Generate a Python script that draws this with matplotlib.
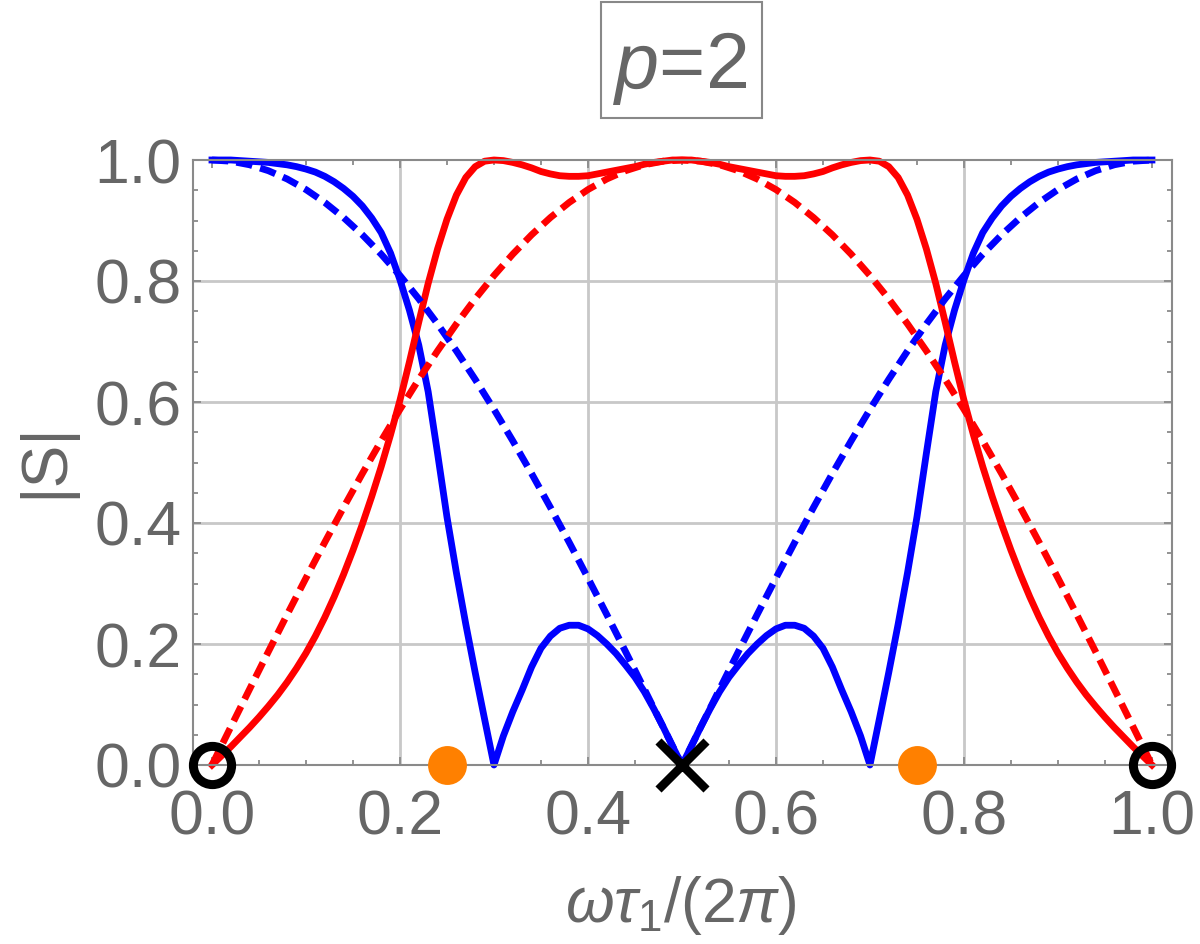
import numpy as np
import matplotlib
matplotlib.use("Agg")
import matplotlib.pyplot as plt
from matplotlib.patches import Rectangle
from matplotlib.ticker import FixedLocator, MultipleLocator, FixedFormatter

plt.rcParams['font.family'] = ['Liberation Sans', 'DejaVu Sans']
plt.rcParams['mathtext.fontset'] = 'custom'
plt.rcParams['mathtext.rm'] = 'Liberation Sans'
plt.rcParams['mathtext.it'] = 'Liberation Sans:italic'

# ---- data ----
x_solid = np.linspace(0.0, 1.0, 101)
blue_solid = [1.000, 1.000, 1.000, 0.999, 0.998, 0.997, 0.996, 0.994, 0.992, 0.989,
              0.985, 0.980, 0.973, 0.964, 0.953, 0.940, 0.924, 0.904, 0.880, 0.846,
              0.802, 0.752, 0.694, 0.617, 0.515, 0.410, 0.318, 0.233, 0.153, 0.076,
              0.000, 0.048, 0.088, 0.124, 0.162, 0.193, 0.213, 0.226, 0.231, 0.231,
              0.225, 0.214, 0.200, 0.184, 0.165, 0.145, 0.121, 0.093, 0.063, 0.031,
              0.000,
              0.031, 0.063, 0.093, 0.121, 0.145, 0.165, 0.184, 0.200, 0.214, 0.225,
              0.231, 0.231, 0.226, 0.213, 0.193, 0.162, 0.124, 0.088, 0.048, 0.000,
              0.076, 0.153, 0.233, 0.318, 0.410, 0.515, 0.617, 0.694, 0.752, 0.802,
              0.846, 0.880, 0.904, 0.924, 0.940, 0.953, 0.964, 0.973, 0.980, 0.985,
              0.989, 0.992, 0.994, 0.996, 0.997, 0.998, 0.999, 1.000, 1.000, 1.000]
red_solid = [0.000, 0.015, 0.030, 0.046, 0.062, 0.079, 0.097, 0.116, 0.137, 0.160,
             0.185, 0.213, 0.244, 0.278, 0.315, 0.355, 0.398, 0.444, 0.493, 0.546,
             0.603, 0.666, 0.732, 0.796, 0.853, 0.902, 0.942, 0.971, 0.989, 0.998,
             1.000, 0.999, 0.996, 0.992, 0.987, 0.981, 0.977, 0.974, 0.973, 0.973,
             0.974, 0.977, 0.980, 0.983, 0.986, 0.989, 0.993, 0.996, 0.998, 1.000,
             1.000,
             1.000, 0.998, 0.996, 0.993, 0.989, 0.986, 0.983, 0.980, 0.977, 0.974,
             0.973, 0.973, 0.974, 0.977, 0.981, 0.987, 0.992, 0.996, 0.999, 1.000,
             0.998, 0.989, 0.971, 0.942, 0.902, 0.853, 0.796, 0.732, 0.666, 0.603,
             0.546, 0.493, 0.444, 0.398, 0.355, 0.315, 0.278, 0.244, 0.213, 0.185,
             0.160, 0.137, 0.116, 0.097, 0.079, 0.062, 0.046, 0.030, 0.015, 0.000]

x_dash = np.linspace(0.0, 1.0, 51)
red_dashed = [0.0000, 0.0628, 0.1253, 0.1874, 0.2487, 0.3090, 0.3681, 0.4258, 0.4818, 0.5358,
              0.5878, 0.6374, 0.6845, 0.7290, 0.7705, 0.8090, 0.8443, 0.8763, 0.9048, 0.9298,
              0.9511, 0.9686, 0.9823, 0.9921, 0.9980, 1.0000, 0.9980, 0.9921, 0.9823, 0.9686,
              0.9511, 0.9298, 0.9048, 0.8763, 0.8443, 0.8090, 0.7705, 0.7290, 0.6845, 0.6374,
              0.5878, 0.5358, 0.4818, 0.4258, 0.3681, 0.3090, 0.2487, 0.1874, 0.1253, 0.0628,
              0.0000]
blue_dashed = [1.0000, 0.9980, 0.9921, 0.9823, 0.9686, 0.9511, 0.9298, 0.9048, 0.8763, 0.8443,
               0.8090, 0.7705, 0.7290, 0.6845, 0.6374, 0.5878, 0.5358, 0.4818, 0.4258, 0.3681,
               0.3090, 0.2487, 0.1874, 0.1253, 0.0628, 0.0000, 0.0628, 0.1253, 0.1874, 0.2487,
               0.3090, 0.3681, 0.4258, 0.4818, 0.5358, 0.5878, 0.6374, 0.6845, 0.7290, 0.7705,
               0.8090, 0.8443, 0.8763, 0.9048, 0.9298, 0.9511, 0.9686, 0.9823, 0.9921, 0.9980,
               1.0000]

circle_x = [0.0, 1.0]
circle_y = [0.0, 0.0]
dot_x = [0.25, 0.75]
dot_y = [0.0, 0.0]
cross_x = [0.5]
cross_y = [0.0]

tick_vals = [0.0, 0.2, 0.4, 0.6, 0.8, 1.0]
tick_labels = ['0.0', '0.2', '0.4', '0.6', '0.8', '1.0']
grid_vals = [0.2, 0.4, 0.6, 0.8]

# ---- figure ----
W, H = 1200, 944
fig = plt.figure(figsize=(W / 100, H / 100), dpi=100)
left_px, right_px, top_px, bot_px = 192.7, 1171.7, 160.0, 765.0
ax = fig.add_axes([left_px / W, 1 - bot_px / H, (right_px - left_px) / W, (bot_px - top_px) / H])
ax.set_xlim(-0.0205, 1.0210)
ax.set_ylim(0.0, 1.0)

TXT = '#666666'
FRAME = '#8a8a8a'
GRID = '#c8c8c8'

for g in grid_vals:
    ax.axvline(g, color=GRID, lw=2.0, zorder=0.5)
    ax.axhline(g, color=GRID, lw=2.0, zorder=0.5)

lw = 4.9
ax.plot(x_solid, blue_solid, color='#0000ff', lw=lw, solid_joinstyle='round', clip_on=False, zorder=2)
ax.plot(x_solid, red_solid, color='#ff0000', lw=lw, solid_joinstyle='round', clip_on=False, zorder=2.1)
ax.plot(x_dash, blue_dashed, color='#0000ff', lw=lw, dashes=(2.4, 1.2), clip_on=False, zorder=2.2)
ax.plot(x_dash, red_dashed, color='#ff0000', lw=lw, dashes=(2.4, 1.2), clip_on=False, zorder=2.3)

ax.plot(circle_x, circle_y, linestyle='none', marker='o', ms=27.5, mfc='none', mec='black', mew=6.5,
        clip_on=False, zorder=5)
ax.plot(dot_x, dot_y, linestyle='none', marker='o', ms=28, mfc='#ff8000', mec='none',
        clip_on=False, zorder=5)
ax.plot(cross_x, cross_y, linestyle='none', marker='x', ms=35, mec='black', mew=6.2,
        clip_on=False, zorder=5)

for s in ax.spines.values():
    s.set_color(FRAME)
    s.set_linewidth(1.5)

ax.xaxis.set_major_locator(FixedLocator(tick_vals))
ax.yaxis.set_major_locator(FixedLocator(tick_vals))
ax.xaxis.set_major_formatter(FixedFormatter(tick_labels))
ax.yaxis.set_major_formatter(FixedFormatter(tick_labels))
ax.xaxis.set_minor_locator(MultipleLocator(0.05))
ax.yaxis.set_minor_locator(MultipleLocator(0.05))
ax.tick_params(which='both', direction='in', top=True, right=True, color=FRAME, width=1.3)
ax.tick_params(which='major', length=6)
ax.tick_params(which='minor', length=3.5)
ax.tick_params(axis='x', which='major', labelsize=45, labelcolor=TXT, pad=17)
ax.tick_params(axis='y', which='major', labelsize=45, labelcolor=TXT, pad=8)

# axis labels
fig.text(681 / W, 1 - 922 / H, r'$\mathit{\omega\tau}_{1}\mathrm{/(2}\mathit{\pi}\mathrm{)}$',
         ha='center', va='baseline', fontsize=45, color=TXT)
fig.text(45 / W, 1 - 460 / H, '|S|', rotation=90, ha='center', va='center', fontsize=46, color=TXT)

# title box
fig.add_artist(Rectangle((601 / W, 1 - 118 / H), (762 - 601) / W, (118 - 2) / H,
                         transform=fig.transFigure, facecolor='white', edgecolor='#888888', lw=1.5))
fig.text(680 / W, 1 - 88 / H, r'$\mathit{p}$=2', ha='center', va='baseline', fontsize=57, color=TXT)

fig.savefig('out.png', dpi=100)
